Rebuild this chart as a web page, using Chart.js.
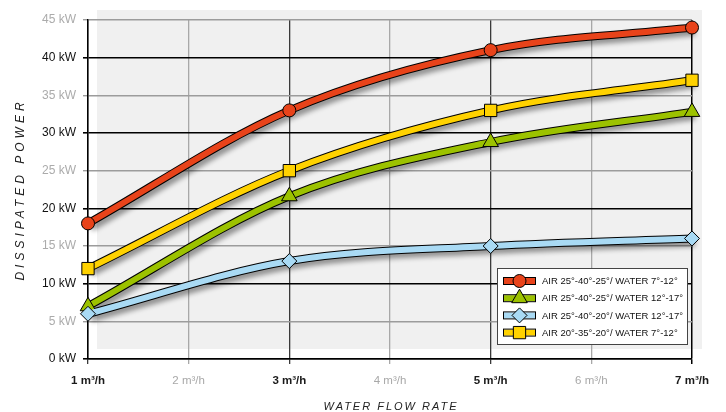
<!DOCTYPE html>
<html>
<head>
<meta charset="utf-8">
<script src="https://cdn.jsdelivr.net/npm/chart.js@4"></script>
<style>
  html, body { margin: 0; padding: 0; background: #fff; }
  #wrap { width: 726px; height: 412px; position: relative; }
</style>
</head>
<body>
<div id="wrap"><canvas id="grafico"></canvas></div>
<script>
// --- DATOS ---
const caudales = [1, 3, 5, 7];
const etiquetasSeries = [
    'AIR 25°-40°-25°/ WATER 7°-12°',
    'AIR 25°-40°-25°/ WATER 12°-17°',
    'AIR 25°-40°-20°/ WATER 12°-17°',
    'AIR 20°-35°-20°/ WATER 7°-12°'
];
const rojo = [18, 33, 41, 44];
const verde = [7, 21.6, 28.8, 32.8];
const celeste = [6, 13, 15, 16];
const amarillo = [12, 25, 33, 37];
const etiquetaY = 'DISSIPATED POWER';
const etiquetaX = 'WATER FLOW RATE';
const unidadY = 'kW';
const unidadX = 'm³/h';

// estilo de cada serie: color, marcador, radio, orden de dibujo
const estilos = [
    { color: '#e8431a', marcador: 'circle', radio: 6.5, orden: 1 },
    { color: '#9cc200', marcador: 'triangle', radio: 9, orden: 2 },
    { color: '#a9daf4', marcador: 'rectRot', radio: 7.5, orden: 0 },
    { color: '#ffd200', marcador: 'rect', radio: 8.7, orden: 3 }
];
const valores = [rojo, verde, celeste, amarillo];

const puntos = vals => caudales.map((x, i) => ({ x: x, y: vals[i] }));
const valorTick = c => (c.tick ? c.tick.value : 0);

// cada serie va dos veces: un trazo negro ancho (borde + sombra) y el color encima
const datasets = [];
valores.forEach((vals, i) => {
    const e = estilos[i];
    datasets.push({
        label: etiquetasSeries[i],
        data: puntos(vals),
        borderColor: e.color,
        backgroundColor: e.color,
        borderWidth: 6,
        pointStyle: e.marcador,
        pointRadius: e.radio,
        pointBorderColor: '#000',
        pointBorderWidth: 1,
        pointBackgroundColor: e.color,
        cubicInterpolationMode: 'monotone',
        clip: false,
        order: e.orden,
        indiceLeyenda: i
    });
    datasets.push({
        label: '',
        data: puntos(vals),
        borderColor: '#000',
        borderWidth: 8,
        pointRadius: 0,
        cubicInterpolationMode: 'monotone',
        clip: false,
        order: 10 + e.orden,
        esBorde: true
    });
});

// fondo gris desplazado detras de la grilla
const fondoPlugin = {
    id: 'fondo',
    beforeDraw(chart) {
        const { ctx, chartArea: a } = chart;
        ctx.save();
        ctx.fillStyle = '#f0f0f0';
        ctx.fillRect(a.left + 9, a.top - 10, a.right + 10 - (a.left + 9), a.bottom - a.top);
        ctx.restore();
    }
};

// sombra suave bajo las lineas
const sombraPlugin = {
    id: 'sombra',
    beforeDatasetDraw(chart, args) {
        if (!chart.data.datasets[args.index].esBorde) return;
        const ctx = chart.ctx;
        ctx.save();
        ctx.shadowColor = 'rgba(0,0,0,0.4)';
        ctx.shadowBlur = 5;
        ctx.shadowOffsetX = 3;
        ctx.shadowOffsetY = 4;
    },
    afterDatasetDraw(chart, args) {
        if (chart.data.datasets[args.index].esBorde) chart.ctx.restore();
    }
};

function dibujarMarcador(ctx, d, x, y) {
    ctx.save();
    ctx.fillStyle = d.pointBackgroundColor;
    ctx.strokeStyle = '#000';
    ctx.lineWidth = 1;
    Chart.helpers.drawPoint(ctx, { pointStyle: d.pointStyle, radius: d.pointRadius, borderWidth: 1 }, x, y);
    ctx.restore();
}

// leyenda dentro del grafico, abajo a la derecha
const leyendaPlugin = {
    id: 'leyenda',
    afterDraw(chart) {
        const { ctx, chartArea: a } = chart;
        const x0 = a.right - 195, y0 = a.bottom - 91;
        ctx.save();
        ctx.fillStyle = '#fff';
        ctx.fillRect(x0, y0, 190, 76);
        ctx.strokeStyle = '#444';
        ctx.lineWidth = 1;
        ctx.strokeRect(x0 + 0.5, y0 + 0.5, 190, 76);

        const items = chart.data.datasets.filter(d => !d.esBorde).sort((p, q) => p.indiceLeyenda - q.indiceLeyenda);
        items.forEach((d, i) => {
            const cy = y0 + 13 + i * 17.2;
            const ix = x0 + 6;
            ctx.fillStyle = d.borderColor;
            ctx.strokeStyle = '#000';
            ctx.fillRect(ix, cy - 3, 33, 6);
            ctx.strokeRect(ix + 0.5, cy - 3.5, 32, 7);
            dibujarMarcador(ctx, d, ix + 16.5, cy);
            ctx.fillStyle = '#111';
            ctx.font = '9.5px "Liberation Sans", Arial, sans-serif';
            ctx.textBaseline = 'middle';
            ctx.fillText(d.label, x0 + 45, cy + 0.5);
        });
        ctx.restore();
    }
};

// titulos de ejes con espaciado entre letras
const titulosPlugin = {
    id: 'titulos',
    afterDraw(chart) {
        const { ctx, chartArea: a } = chart;
        ctx.save();
        ctx.fillStyle = '#222';
        ctx.textAlign = 'center';
        ctx.textBaseline = 'middle';
        ctx.font = 'italic 11px "Liberation Sans", Arial, sans-serif';
        ctx.letterSpacing = '2px';
        ctx.fillText(etiquetaX, (a.left + a.right) / 2 + 1, 407);
        ctx.translate(21, (a.top + a.bottom) / 2);
        ctx.rotate(-Math.PI / 2);
        ctx.font = 'italic 12px "Liberation Sans", Arial, sans-serif';
        ctx.letterSpacing = '4px';
        ctx.fillText(etiquetaY, 0, 0);
        ctx.restore();
    }
};

new Chart(document.getElementById('grafico').getContext('2d'), {
    type: 'line',
    data: { datasets: datasets },
    plugins: [fondoPlugin, sombraPlugin, leyendaPlugin, titulosPlugin],
    options: {
        responsive: true,
        maintainAspectRatio: false,
        animation: false,
        layout: { padding: { top: 20, right: 34, left: 0, bottom: 0 } },
        plugins: { legend: { display: false }, tooltip: { enabled: false } },
        scales: {
            x: {
                type: 'linear',
                min: 1,
                max: 7,
                afterFit: s => { s.height = 53; },
                ticks: {
                    stepSize: 1,
                    padding: 10,
                    callback: v => `${v} ${unidadX}`,
                    color: c => (valorTick(c) % 2 === 1 ? '#1a1a1a' : '#a8a8a8'),
                    font: c => ({
                        family: '"Liberation Sans", Arial, sans-serif',
                        size: 11.5,
                        weight: valorTick(c) % 2 === 1 ? 'bold' : 'normal'
                    })
                },
                grid: {
                    color: c => (valorTick(c) === 7 ? '#000' : valorTick(c) % 2 === 1 ? '#3a3a3a' : '#a8a8a8'),
                    lineWidth: c => (valorTick(c) === 7 ? 1.5 : 1.3),
                    tickLength: 5
                },
                border: { color: '#000', width: 1.5 }
            },
            y: {
                min: 0,
                max: 45,
                afterFit: s => { s.width = 88; },
                ticks: {
                    stepSize: 5,
                    padding: 7,
                    callback: v => `${v} ${unidadY}`,
                    color: c => (valorTick(c) % 10 === 0 ? '#111' : '#ababab'),
                    font: { family: '"Liberation Sans", Arial, sans-serif', size: 12 }
                },
                grid: {
                    color: c => (valorTick(c) % 10 === 0 ? '#000' : '#9c9c9c'),
                    lineWidth: c => (valorTick(c) % 10 === 0 ? 1.6 : 1.4),
                    tickLength: 5
                },
                border: { color: '#000', width: 1.5 }
            }
        }
    }
});
</script>
</body>
</html>
